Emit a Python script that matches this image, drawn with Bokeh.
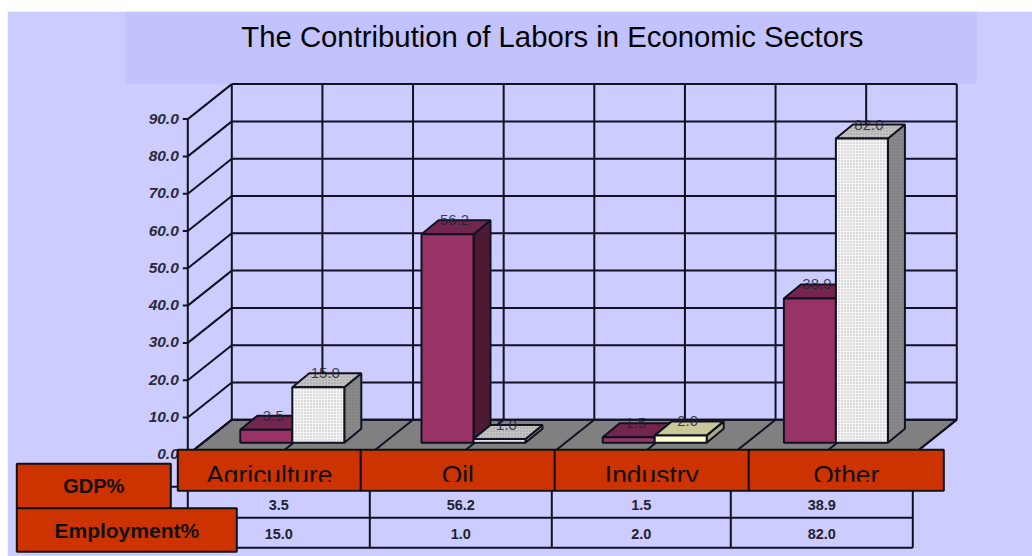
from bokeh.plotting import figure
from bokeh.models import Range1d
from bokeh.core.properties import value
from bokeh.embed import file_html
from bokeh.resources import INLINE

categories = ["Agriculture", "Oil", "Industry", "Other"]
gdp = [3.5, 56.2, 1.5, 38.9]
employment = [15.0, 1.0, 2.0, 82.0]
ticks = [0, 10, 20, 30, 40, 50, 60, 70, 80, 90]
row_names = ["GDP%", "Employment%"]
title = "The Contribution of Labors in Economic Sectors"

W, H = 1032, 556
SHIFT = 0.7      # nudge of the whole drawing, in pixels
PX_Y = 3.71      # pixels per value unit on the bar plane
GRID_Y = 3.73    # pixels per value unit on the walls
PX_X = 181.2     # pixels per category
X0, Y0 = 292.5, 443.0  # position of category 0 / value 0 on the bar plane
FONT = value("Liberation Sans")
LINE = "#111122"

p = figure(width=W, height=H, output_backend="svg", toolbar_location=None,
           x_range=Range1d((SHIFT - X0) / PX_X, (W + SHIFT - X0) / PX_X),
           y_range=Range1d((Y0 - H - SHIFT) / PX_Y, (Y0 - SHIFT) / PX_Y),
           min_border=0, background_fill_color="#ffffff", border_fill_color="#ffffff",
           outline_line_color=None, x_axis_location=None, y_axis_location=None)
p.xgrid.visible = False
p.ygrid.visible = False
p.extra_x_ranges["px"] = Range1d(SHIFT, W + SHIFT)
p.extra_y_ranges["px"] = Range1d(H + SHIFT, SHIFT)
PX = dict(x_range_name="px", y_range_name="px")


def box(l, t, r, b, fill, line=None, lw=2):
    p.quad(left=[l], right=[r], top=[t], bottom=[b], fill_color=fill,
           line_color=line, line_width=lw, **PX)


def seg(x0, y0, x1, y1, lw=2, color=LINE):
    p.segment(x0=[x0], y0=[y0], x1=[x1], y1=[y1], line_color=color, line_width=lw, **PX)


def label(x, y, t, size, style="normal", color="#111111", align="center"):
    p.text(x=[x], y=[y], text=[t], text_font=FONT, text_font_size=f"{size}px",
           text_font_style=style, text_color=color, text_align=align,
           text_baseline="middle", **PX)


# page background and title band
box(8, 12, 1040, 560, "#ccccff")
box(126, 12, 977, 84, "#c2c2ff")
label(552.5, 37, title, 29.3, color="#000000")

# floor
p.patch(x=[232, 957, 913, 188], y=[420, 420, 455, 455], fill_color="#808080",
        line_color=LINE, line_width=2, **PX)

# walls and grid
BACK_L, BACK_R = 232, 957
FRONT_L = 188
DX, DY = 44, 35
for t in ticks:
    fy = 455 - GRID_Y * t
    by = fy - DY
    seg(BACK_L, by, BACK_R, by)
    seg(FRONT_L, fy, BACK_L, by)
    seg(FRONT_L - 5, fy, FRONT_L, fy)
    label(179, fy - 0.5, f"{t:.1f}", 15.5, "bold italic", "#2a2a3a", "right")
seg(FRONT_L, 455 - GRID_Y * ticks[-1], FRONT_L, 455)
for k in range(9):
    x = BACK_L + k * (BACK_R - BACK_L) / 8
    seg(x, 455 - GRID_Y * ticks[-1] - DY, x, 420)
    seg(x, 420, x - DX, 455)

# 3D bars
BAR_W = 52 / PX_X
DEP_X = 17 / PX_X
DEP_Y = 14 / PX_Y


def bar(left, v, front, top_c, side, hatch):
    r = left + BAR_W
    style = dict(line_color=LINE, line_width=2)
    if hatch:
        style.update(hatch_pattern="dot", hatch_color="#555555", hatch_scale=3,
                     hatch_alpha=0.45, hatch_weight=1)
    p.patch(x=[r, r + DEP_X, r + DEP_X, r], y=[0, DEP_Y, v + DEP_Y, v],
            fill_color=side, **style)
    p.patch(x=[left, r, r + DEP_X, left + DEP_X], y=[v, v, v + DEP_Y, v + DEP_Y],
            fill_color=top_c, **style)
    p.quad(left=[left], right=[r], bottom=[0], top=[v], fill_color=front, **style)


PURPLE = ("#993366", "#73264d", "#4d1a33", False)
WHITE = ("#f6f6f6", "#c4c4c4", "#8a8a8a", True)
YELLOW = ("#ffffcc", "#c8c89a", "#a9a982", False)
colors_b = [WHITE, WHITE, YELLOW, WHITE]
for i in range(len(categories)):
    bar(i - BAR_W, gdp[i], *PURPLE)
    bar(i, employment[i], *colors_b[i])

for i in range(len(categories)):
    for off, v in ((-BAR_W / 2, gdp[i]), (BAR_W / 2, employment[i])):
        p.text(x=[i + off + 7 / PX_X], y=[v + 14 / PX_Y], text=[f"{v:.1f}"], text_font=FONT,
               text_font_size="15px", text_color="#222233", text_alpha=0.85,
               text_align="center", text_baseline="middle")

# data table
TAB_X = [188, 370, 552, 731, 913]
seg(150, 487, TAB_X[-1], 487)
seg(150, 518, TAB_X[-1], 518)
seg(188, 548, TAB_X[-1], 548)
for x in TAB_X:
    seg(x, 487, x, 548)
for j, row in enumerate((gdp, employment)):
    for i, v in enumerate(row):
        label((TAB_X[i] + TAB_X[i + 1]) / 2, 505 + j * 29, f"{v:.1f}", 14.5, "bold", "#222233")

# category header: text is cut off at the bottom of its box in the original
CAT_X = [178, 361, 555, 749, 944]
for i, c in enumerate(categories):
    box(CAT_X[i], 450, CAT_X[i + 1], 491, "#cc3300", "#111111", 2)
    label((CAT_X[i] + CAT_X[i + 1]) / 2, 475, c, 26.4, color="#111111")
    box(CAT_X[i] + 1.5, 482, CAT_X[i + 1] - 1.5, 489.8, "#cc3300")

# row headers
box(17, 464, 171, 508.5, "#cc3300", "#111111", 2)
label(94, 486, row_names[0], 20, "bold", "#111111")
box(17, 508.5, 237, 552, "#cc3300", "#111111", 2)
label(127, 531, row_names[1], 21, "bold", "#111111")

open("out.html", "w").write(file_html(p, INLINE))
